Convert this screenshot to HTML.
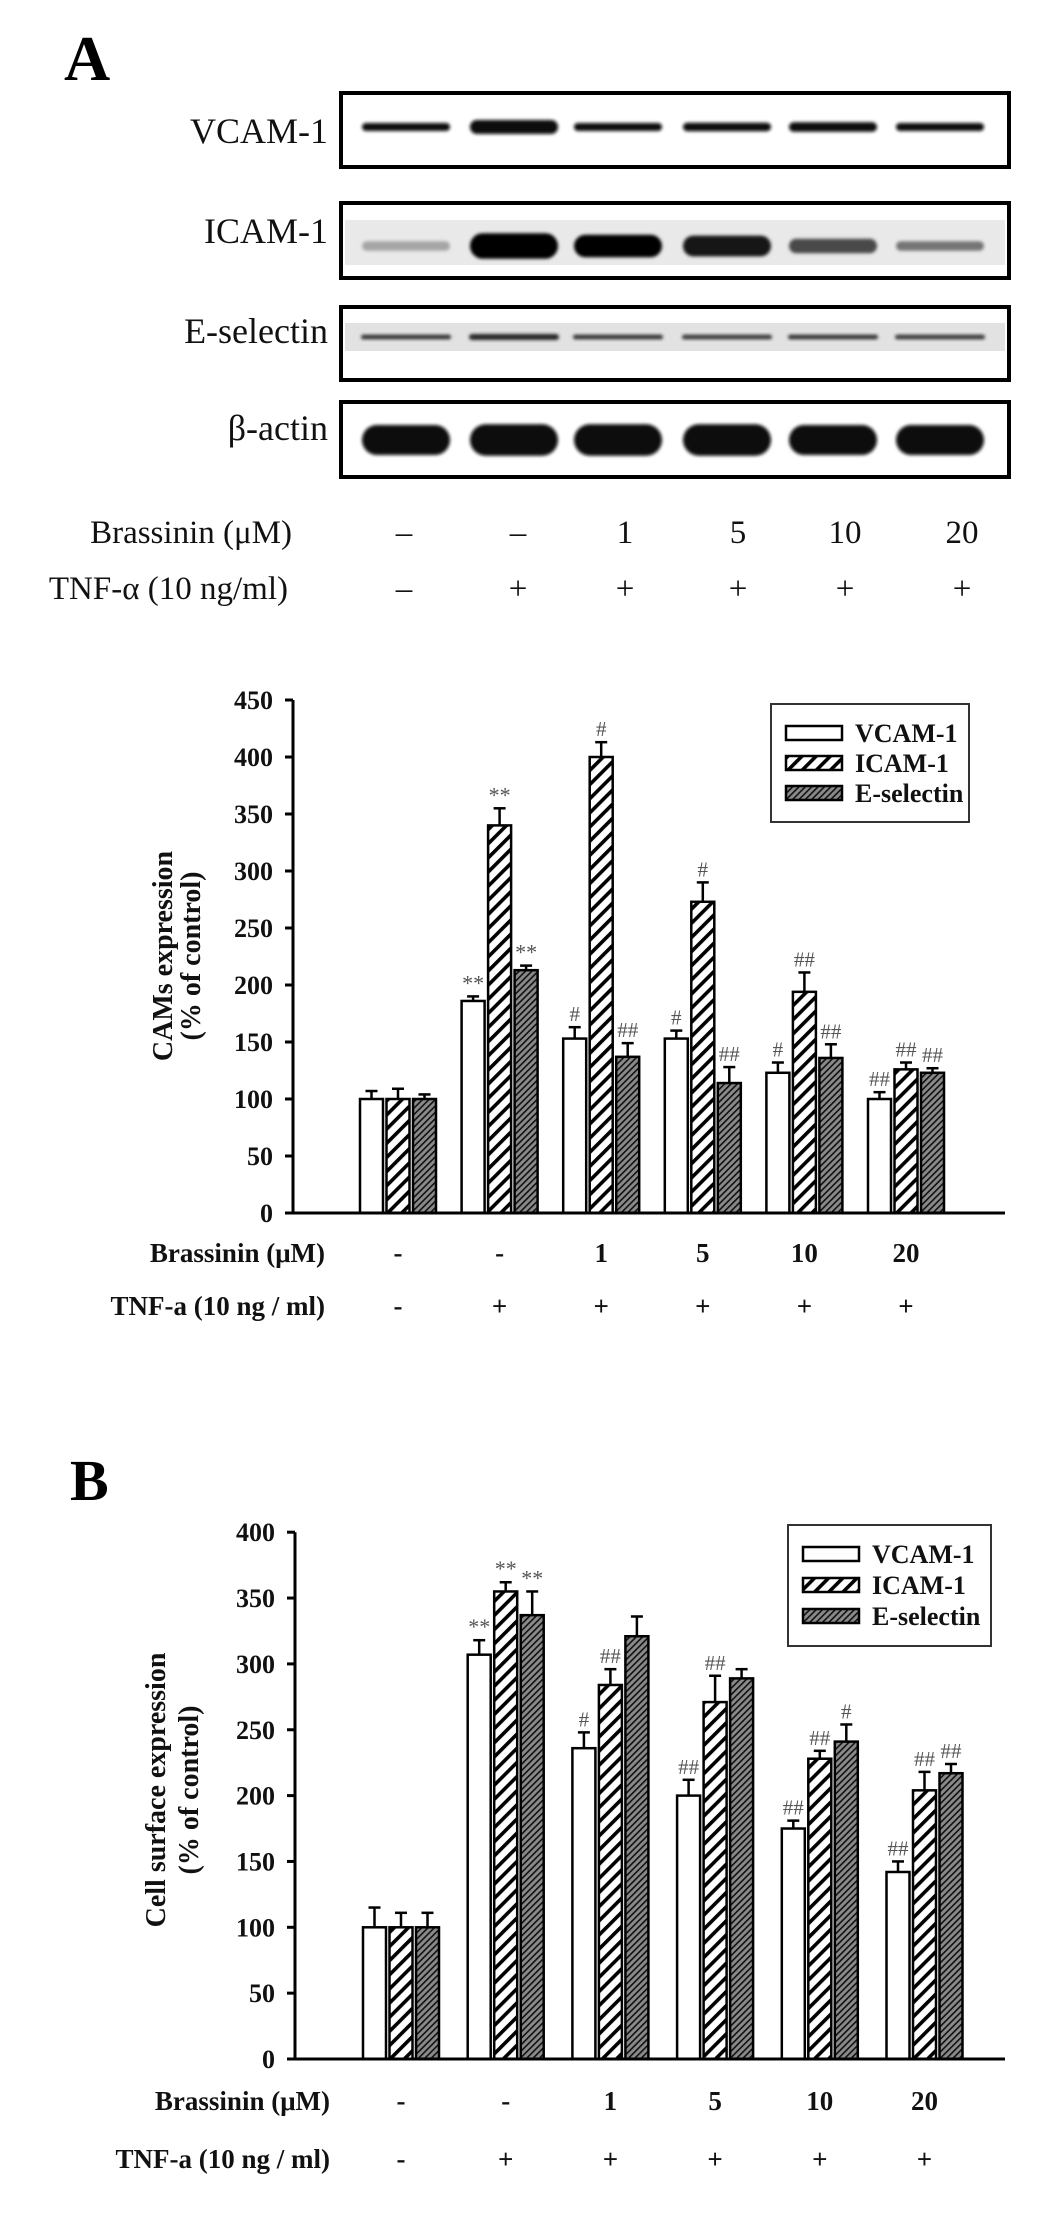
<!DOCTYPE html>
<html><head><meta charset="utf-8"><style>
html,body{margin:0;padding:0;background:#fff;}
svg{display:block;}
text{font-family:"Liberation Serif","Times New Roman",serif;}
</style></head><body>
<svg id="fig" xmlns="http://www.w3.org/2000/svg" width="1063" height="2213" viewBox="0 0 1063 2213">
<defs>
<pattern id="hatchI" patternUnits="userSpaceOnUse" width="10" height="10" patternTransform="rotate(45)">
<rect width="10" height="10" fill="#fff"/><rect x="0" y="0" width="3.6" height="10" fill="#000"/></pattern>
<pattern id="hatchE" patternUnits="userSpaceOnUse" width="4.5" height="4.5" patternTransform="rotate(45)">
<rect width="4.5" height="4.5" fill="#8a8a8a"/><rect x="0" y="0" width="1.6" height="4.5" fill="#111"/></pattern>
<filter id="blur1" x="-20%" y="-50%" width="140%" height="200%"><feGaussianBlur stdDeviation="1.6"/></filter>
</defs>
<rect width="1063" height="2213" fill="#fff"/>
<text x="64" y="80" font-size="64" font-weight="bold">A</text>
<text x="70" y="1500" font-size="58" font-weight="bold">B</text>
<g id="blot"></g>
<g id="chart1"></g>
<g id="chart2"></g>
</svg>
<script>
// ---- shared categories ----
const brassininLabels = ['-', '-', '1', '5', '10', '20'];
const tnfLabels = ['-', '+', '+', '+', '+', '+'];
const seriesNames = ['VCAM-1', 'ICAM-1', 'E-selectin'];

// ---- chart 1 (CAMs expression) ----
const c1Vcam = [100, 186, 153, 153, 123, 100];
const c1VcamErr = [7, 4, 10, 7, 9, 6];
const c1Icam = [100, 340, 400, 273, 194, 126];
const c1IcamErr = [9, 15, 13, 17, 17, 6];
const c1Esel = [100, 213, 137, 114, 136, 123];
const c1EselErr = [4, 4, 12, 14, 12, 4];
const c1VcamSig = ['', '**', '#', '#', '#', '##'];
const c1IcamSig = ['', '**', '#', '#', '##', '##'];
const c1EselSig = ['', '**', '##', '##', '##', '##'];
const c1Ticks = [0, 50, 100, 150, 200, 250, 300, 350, 400, 450];

// ---- chart 2 (cell surface expression) ----
const c2Vcam = [100, 307, 236, 200, 175, 142];
const c2VcamErr = [15, 11, 12, 12, 6, 8];
const c2Icam = [100, 355, 284, 271, 228, 204];
const c2IcamErr = [11, 7, 12, 20, 6, 14];
const c2Esel = [100, 337, 321, 289, 241, 217];
const c2EselErr = [11, 18, 15, 7, 13, 7];
const c2VcamSig = ['', '**', '#', '##', '##', '##'];
const c2IcamSig = ['', '**', '##', '##', '##', '##'];
const c2EselSig = ['', '**', '', '', '#', '##'];
const c2Ticks = [0, 50, 100, 150, 200, 250, 300, 350, 400];

// ---- western blot lane data ----
const blotRows = ['VCAM-1', 'ICAM-1', 'E-selectin', 'β-actin'];
const vcamBand = [0.8, 1.4, 0.8, 0.85, 0.95, 0.8];
const icamBand = [0.25, 1.6, 1.4, 1.3, 0.9, 0.6];
const eselBand = [0.6, 0.75, 0.6, 0.55, 0.6, 0.55];
const actinBand = [1, 1.05, 1.05, 1.05, 1, 1];

const NS = 'http://www.w3.org/2000/svg';
function mk(tag, attrs, parent) {
  const e = document.createElementNS(NS, tag);
  for (const k in attrs) e.setAttribute(k, attrs[k]);
  parent.appendChild(e);
  return e;
}

// ===== Western blot =====
(function () {
  const g = document.getElementById('blot');
  const boxTop = [93, 203, 307, 402], boxBot = [167, 278, 380, 477];
  const laneX = [406, 514, 618, 727, 833, 940];
  const labelY = [143, 243, 343, 440];
  blotRows.forEach((name, r) => {
    const t = mk('text', {x: 328, y: labelY[r], 'font-size': 36, 'text-anchor': 'end', fill: '#111'}, g);
    t.textContent = name;
    
    
    const box = mk('rect', {x: 341, y: boxTop[r], width: 668, height: boxBot[r] - boxTop[r], fill: '#fff', stroke: '#000', 'stroke-width': 4}, g);
    
    
  });
  // gray backgrounds
  mk('rect', {x: 345, y: 220, width: 660, height: 45, fill: '#e9e9e9'}, g);
  mk('rect', {x: 345, y: 323, width: 660, height: 28, fill: '#e2e2e2'}, g);
  const bandSets = [
    {vals: vcamBand, y: 127, h: 10, w: 88, dark: true},
    {vals: icamBand, y: 246, h: 16, w: 88, dark: false},
    {vals: eselBand, y: 337, h: 8, w: 90, dark: false},
    {vals: actinBand, y: 440, h: 30, w: 88, dark: true}
  ];
  bandSets.forEach((s, r) => {
    s.vals.forEach((v, i) => {
      const h = s.h * (r === 3 ? v : Math.max(0.6, v));
      const shade = r === 1 ? Math.round(Math.max(0, 200 - v * 140)) : (r === 2 ? Math.round(Math.max(20, 120 - v * 110)) : 8);
      const b = mk('rect', {x: laneX[i] - s.w / 2, y: s.y - h / 2, width: s.w, height: h, rx: h / 2, fill: 'rgb(' + shade + ',' + shade + ',' + shade + ')', filter: 'url(#blur1)'}, g);
      
      
    });
  });
  // treatment rows
  const valX = [404, 518, 625, 738, 845, 962];
  const rowDefs = [{label: 'Brassinin (μM)', vals: brassininLabels, y: 543, right: 292},
                   {label: 'TNF-α (10 ng/ml)', vals: tnfLabels, y: 599, right: 288}];
  rowDefs.forEach((rd, r) => {
    const t = mk('text', {x: rd.right, y: rd.y, 'font-size': 33, 'text-anchor': 'end', fill: '#111'}, g);
    t.textContent = rd.label;
    
    
    rd.vals.forEach((v, i) => {
      const vt = mk('text', {x: valX[i], y: rd.y, 'font-size': 33, 'text-anchor': 'middle', fill: '#111'}, g);
      vt.textContent = v === '-' ? '–' : v;
      
      
    });
  });
})();

// ===== Bar chart builder =====
function drawChart(gid, cfg, series, errs, sigs, ticks, title1, title2) {
  const g = document.getElementById(gid);
  const yPx = v => cfg.zero - v * cfg.ppu;
  const xBar = (gi, si) => cfg.g0 + gi * cfg.gStride + si * 26.5;
  const fills = ['#fff', 'url(#hatchI)', 'url(#hatchE)'];
  // bars
  series.forEach((vals, si) => {
    vals.forEach((v, gi) => {
      const x = xBar(gi, si), w = 23;
      const top = yPx(v), etop = yPx(v + errs[si][gi]);
      const el = mk('line', {x1: x + w / 2, x2: x + w / 2, y1: top, y2: etop, stroke: '#000', 'stroke-width': 2.5}, g);
      
      
      mk('line', {x1: x + w / 2 - 6, x2: x + w / 2 + 6, y1: etop, y2: etop, stroke: '#000', 'stroke-width': 2.5}, g);
      const r = mk('rect', {x: x, y: top, width: w, height: cfg.zero - top, fill: fills[si], stroke: '#000', 'stroke-width': 2.5}, g);
      
      
      const s = sigs[si][gi];
      if (s) {
        const st = mk('text', {x: x + w / 2, y: etop - 6, 'font-size': s.indexOf('*') >= 0 ? 22 : 21, 'text-anchor': 'middle', fill: '#555'}, g);
        st.textContent = s;
        
        
      }
    });
  });
  // axes
  const ya = mk('line', {x1: cfg.ax, x2: cfg.ax, y1: yPx(ticks[ticks.length - 1]), y2: cfg.zero + 1, stroke: '#000', 'stroke-width': 3}, g);
  
  
  const xa = mk('line', {x1: cfg.ax - 8, x2: 1005, y1: cfg.zero, y2: cfg.zero, stroke: '#000', 'stroke-width': 3}, g);
  
  
  ticks.forEach(t => {
    const y = yPx(t);
    mk('line', {x1: cfg.ax - 8, x2: cfg.ax, y1: y, y2: y, stroke: '#000', 'stroke-width': 3}, g);
    const tl = mk('text', {x: cfg.ax - 20, y: y + 9, 'font-size': 26, 'font-weight': 'bold', 'text-anchor': 'end', fill: '#111'}, g);
    tl.textContent = t;
    
    
  });
  // y title
  const tx = mk('text', {transform: 'translate(' + cfg.tx1 + ',' + cfg.tcy + ') rotate(-90)', 'font-size': 28, 'font-weight': 'bold', 'text-anchor': 'middle', fill: '#111'}, g);
  tx.textContent = title1;
  
  
  const tx2 = mk('text', {transform: 'translate(' + cfg.tx2 + ',' + cfg.tcy + ') rotate(-90)', 'font-size': 28, 'font-weight': 'bold', 'text-anchor': 'middle', fill: '#111'}, g);
  tx2.textContent = title2;
  
  
  // x rows
  const rows = [{label: 'Brassinin (μM)', vals: brassininLabels, y: cfg.row1},
                {label: 'TNF-a (10 ng / ml)', vals: tnfLabels, y: cfg.row2}];
  rows.forEach((rd, r) => {
    const t = mk('text', {x: cfg.rowRight, y: rd.y, 'font-size': 27, 'font-weight': 'bold', 'text-anchor': 'end', fill: '#111'}, g);
    t.textContent = rd.label;
    
    
    rd.vals.forEach((v, i) => {
      const vt = mk('text', {x: xBar(i, 1) + 11.5, y: rd.y, 'font-size': 27, 'font-weight': 'bold', 'text-anchor': 'middle', fill: '#111'}, g);
      vt.textContent = v;
      
      
    });
  });
  // legend
  const L = cfg.legend;
  const lb = mk('rect', {x: L.x, y: L.y, width: L.w, height: L.h, fill: '#fff', stroke: '#333', 'stroke-width': 2}, g);
  
  
  seriesNames.forEach((n, i) => {
    const cy = L.y + L.first + i * L.gap;
    const sw = mk('rect', {x: L.x + 15, y: cy - 7, width: 56, height: 14, fill: fills[i], stroke: '#000', 'stroke-width': 2.5}, g);
    
    
    const lt = mk('text', {x: L.x + 84, y: cy + 9, 'font-size': 26, 'font-weight': 'bold', fill: '#111'}, g);
    lt.textContent = n;
    
    
  });
}

drawChart('chart1',
  {ax: 293, zero: 1213, ppu: 1.14, g0: 360, gStride: 101.6, tx1: 172, tx2: 200, tcy: 956,
   row1: 1262, row2: 1315, rowRight: 325, legend: {x: 771, y: 704, w: 198, h: 118, first: 29, gap: 30}},
  [c1Vcam, c1Icam, c1Esel], [c1VcamErr, c1IcamErr, c1EselErr], [c1VcamSig, c1IcamSig, c1EselSig],
  c1Ticks, 'CAMs expression', '(% of control)');

drawChart('chart2',
  {ax: 295, zero: 2059, ppu: 1.317, g0: 363, gStride: 104.7, tx1: 165, tx2: 198, tcy: 1790,
   row1: 2110, row2: 2168, rowRight: 330, legend: {x: 788, y: 1525, w: 203, h: 121, first: 29, gap: 31}},
  [c2Vcam, c2Icam, c2Esel], [c2VcamErr, c2IcamErr, c2EselErr], [c2VcamSig, c2IcamSig, c2EselSig],
  c2Ticks, 'Cell surface expression', '(% of control)');
</script>
</body></html>
